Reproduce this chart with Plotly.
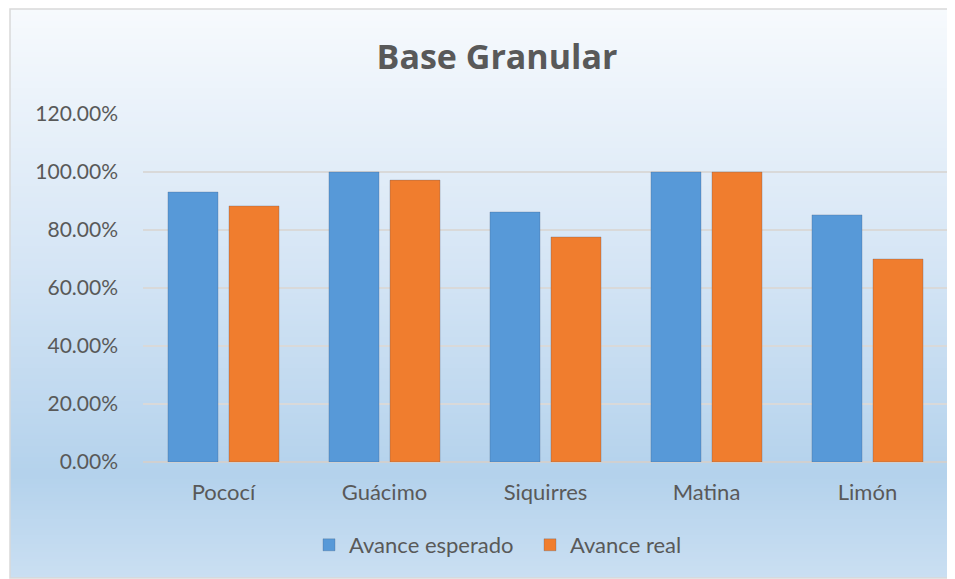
import base64
import struct
import zlib
import plotly.graph_objects as go

# chart data
categories = ["Pococí", "Guácimo", "Siquirres", "Matina", "Limón"]
avance_esperado = [0.931, 1.00, 0.862, 1.00, 0.852]
avance_real = [0.883, 0.972, 0.776, 1.00, 0.700]
series_names = ["Avance esperado", "Avance real"]
y_ticks = [0, 0.2, 0.4, 0.6, 0.8, 1.0, 1.2]

FONT = "Lato"
TEXT = "#595959"

# the page body has an 8px margin, so the figure is sized to fit the window
W, H = 947, 571
L, R, T, B = 135, 7, 106, 117
PW, PH = W - L - R, H - T - B


def gradient_png(stops, height=256):
    # vertical 1px-wide gradient, used as the chart panel background
    rows = b""
    for i in range(height):
        t = i / (height - 1)
        for (p0, c0), (p1, c1) in zip(stops, stops[1:]):
            if p0 <= t <= p1:
                f = (t - p0) / (p1 - p0) if p1 > p0 else 0
                px = bytes(int(round(a + (b - a) * f)) for a, b in zip(c0, c1))
                break
        rows += b"\x00" + px

    def chunk(tag, data):
        c = struct.pack(">I", len(data)) + tag + data
        return c + struct.pack(">I", zlib.crc32(tag + data) & 0xffffffff)

    png = b"\x89PNG\r\n\x1a\n"
    png += chunk(b"IHDR", struct.pack(">IIBBBBB", 1, height, 8, 2, 0, 0, 0))
    png += chunk(b"IDAT", zlib.compress(rows))
    png += chunk(b"IEND", b"")
    return "data:image/png;base64," + base64.b64encode(png).decode()


bg = gradient_png([
    (0.0, (247, 250, 253)),
    (0.45, (213, 229, 245)),
    (0.82, (180, 210, 236)),
    (1.0, (202, 223, 242)),
])

fig = go.Figure()
fig.add_trace(go.Bar(
    x=categories, y=avance_esperado, name=series_names[0],
    marker=dict(color="#5799d8", line=dict(color="rgba(60,80,110,0.25)", width=1)),
    legendwidth=176,
))
fig.add_trace(go.Bar(
    x=categories, y=avance_real, name=series_names[1],
    marker=dict(color="#f07d2e", line=dict(color="rgba(60,80,110,0.25)", width=1)),
))

# panel extents in paper coords
px0, px1 = (2 - L) / PW, (946 - L) / PW
py0, py1 = (T + PH - 570) / PH, (T + PH - 1) / PH

fig.update_layout(
    width=W, height=H,
    margin=dict(l=L, r=R, t=T, b=B, autoexpand=False),
    paper_bgcolor="white",
    plot_bgcolor="rgba(0,0,0,0)",
    font=dict(family=FONT, color=TEXT, size=22),
    title=dict(
        text="<b>Base Granular</b>",
        x=489 / W, xanchor="center", y=1 - 49 / H, yanchor="middle",
        font=dict(family="Open Sans", size=34, color=TEXT),
    ),
    barmode="group",
    bargap=0.242,
    bargroupgap=0.18,
    showlegend=True,
    legend=dict(
        orientation="h", x=(490 - L) / PW, xanchor="center",
        y=(T + PH - 537) / PH, yanchor="middle",
        font=dict(size=22, color=TEXT),
        bgcolor="rgba(0,0,0,0)",
        itemwidth=30,
    ),
    images=[dict(
        source=bg, xref="paper", yref="paper",
        x=px0, y=py1, sizex=px1 - px0, sizey=py1 - py0,
        sizing="stretch", layer="below",
    )],
    shapes=[dict(
        type="rect", xref="paper", yref="paper",
        x0=px0, x1=px1, y0=py0, y1=py1,
        line=dict(color="#d9d9d9", width=1.5), layer="below",
    )],
)

fig.update_xaxes(
    showgrid=False, showline=False, zeroline=False, tickangle=0,
    ticks="outside", ticklen=11, tickcolor="rgba(0,0,0,0)",
    tickfont=dict(size=22, color=TEXT),
)
fig.update_yaxes(
    range=[0, 1.2], tickvals=y_ticks, tickformat=".2%",
    showgrid=True, gridcolor="#d9d9d9", gridwidth=1.5,
    zeroline=True, zerolinecolor="#d0d0d0", zerolinewidth=2,
    showline=False, ticklabelstandoff=24,
    tickfont=dict(size=21, color=TEXT),
)

fig.write_html("out.html")
